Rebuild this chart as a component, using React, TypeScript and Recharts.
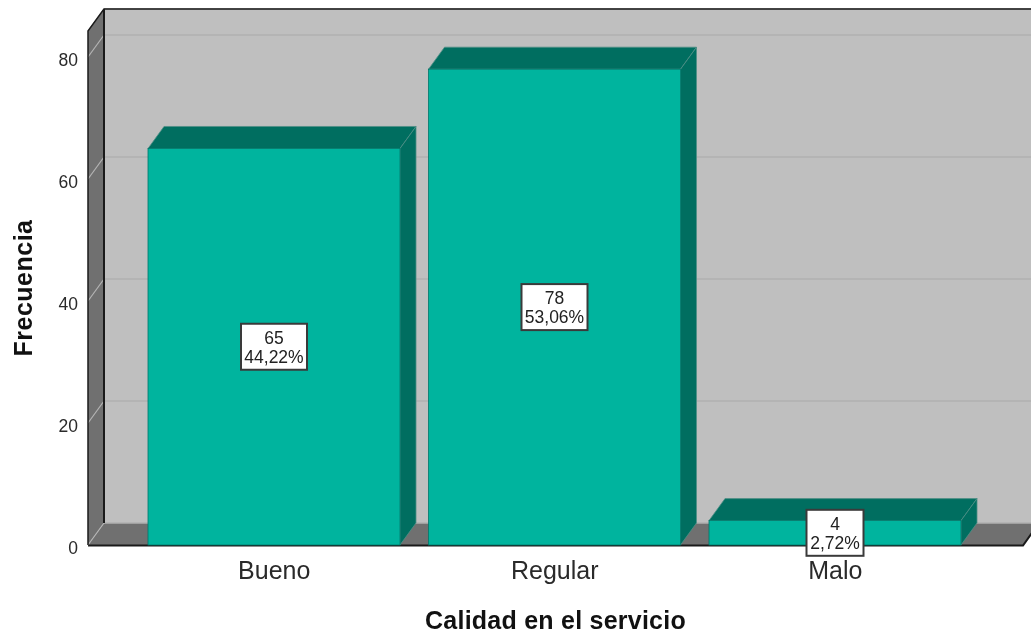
import React from 'react';
import { BarChart, Bar, XAxis, YAxis, CartesianGrid, LabelList } from 'recharts';

const categories = ['Bueno', 'Regular', 'Malo'];
const frequencies = [65, 78, 4];
const percents = ['44,22%', '53,06%', '2,72%'];
const yTicks = [0, 20, 40, 60, 80];

const data = categories.map((name, i) => ({ name, value: frequencies[i] }));

const W = 1031;
const H = 633;
const LEFT = 88;
const TOP = 31;
const BOTTOM = 545;
const RIGHT = 1023;
const DX = 16;
const DY = 22;
const FONT = '"Liberation Sans", Arial, sans-serif';

const layer: React.CSSProperties = { position: 'absolute', left: 0, top: 0 };

// the box behind the chart: back wall, left wall and floor
const Walls = () => (
    <svg width={W} height={H} style={layer}>
        <rect x={LEFT + DX} y={TOP - DY} width={W - LEFT} height={BOTTOM - TOP} fill="#bfbfbf" />
        <polygon
            points={`${LEFT},${TOP} ${LEFT + DX},${TOP - DY} ${LEFT + DX},${BOTTOM - DY} ${LEFT},${BOTTOM}`}
            fill="#707070"
        />
        <polygon
            points={`${LEFT},${BOTTOM} ${LEFT + DX},${BOTTOM - DY} ${RIGHT + DX},${BOTTOM - DY} ${RIGHT},${BOTTOM}`}
            fill="#707070"
        />
        <path
            d={`M${LEFT},${BOTTOM + 0.5} L${RIGHT},${BOTTOM + 0.5} L${RIGHT + DX},${BOTTOM - DY}`}
            fill="none"
            stroke="#1a1a1a"
            strokeWidth={2}
        />
    </svg>
);

// dark edges go above the grid lines
const Edges = () => (
    <svg width={W} height={H} style={{ ...layer, pointerEvents: 'none' }}>
        <path
            d={`M${LEFT},${BOTTOM} L${LEFT},${TOP} L${LEFT + DX},${TOP - DY} L${W},${TOP - DY}`}
            fill="none"
            stroke="#1a1a1a"
            strokeWidth={1.5}
        />
        <line x1={LEFT + DX} y1={TOP - DY} x2={LEFT + DX} y2={BOTTOM - DY} stroke="#1a1a1a" strokeWidth={2} />
    </svg>
);

const gridLine = (props: any) => {
    const { y1, key } = props;
    return (
        <g key={key}>
            <line x1={LEFT} y1={y1} x2={LEFT + DX} y2={y1 - DY} stroke="#b5b5b5" strokeWidth={1.2} />
            <line x1={LEFT + DX} y1={y1 - DY} x2={W} y2={y1 - DY} stroke="#b0b0b0" strokeWidth={1.5} />
        </g>
    );
};

const Bar3D = (props: any) => {
    const { x, y, width, height } = props;
    const edge = '#4f8f86';
    return (
        <g>
            <polygon
                points={`${x},${y} ${x + DX},${y - DY} ${x + width + DX},${y - DY} ${x + width},${y}`}
                fill="#006e60"
                stroke={edge}
                strokeWidth={0.8}
            />
            <polygon
                points={`${x + width},${y} ${x + width + DX},${y - DY} ${x + width + DX},${y + height - DY} ${x + width},${y + height}`}
                fill="#006e60"
                stroke={edge}
                strokeWidth={0.8}
            />
            <rect x={x} y={y} width={width} height={height} fill="#00b49e" stroke="#00776a" strokeWidth={0.8} />
        </g>
    );
};

const ValueBox = (props: any) => {
    const { x, y, width, height, index } = props;
    const pct = percents[index];
    const boxW = pct.length > 5 ? 66 : 57;
    const boxH = 46;
    const cx = x + width / 2;
    const cy = y + height / 2;
    return (
        <g>
            <rect
                x={cx - boxW / 2}
                y={cy - boxH / 2}
                width={boxW}
                height={boxH}
                fill="#ffffff"
                stroke="#3a3a3a"
                strokeWidth={2}
            />
            <text x={cx} y={cy - 3} textAnchor="middle" fontSize={17.5} fontFamily={FONT} fill="#222">
                {frequencies[index]}
            </text>
            <text x={cx} y={cy + 16} textAnchor="middle" fontSize={17.5} fontFamily={FONT} fill="#222">
                {pct}
            </text>
        </g>
    );
};

export default function App() {
    return (
        <div style={{ ...layer, width: W, height: H, background: '#fff', filter: 'blur(0.35px)' }}>
            <Walls />
            <div style={layer}>
                <BarChart
                    width={W}
                    height={H}
                    data={data}
                    margin={{ top: TOP, right: W - RIGHT, bottom: 0, left: 0 }}
                >
                    <CartesianGrid vertical={false} horizontal={gridLine} />
                    <XAxis
                        dataKey="name"
                        height={H - BOTTOM}
                        axisLine={false}
                        tickLine={false}
                        tickSize={0}
                        tickMargin={16}
                        padding={{ left: 46, right: 47.5 }}
                        interval={0}
                        tick={{ fill: '#2a2a2a', fontSize: 25, fontFamily: FONT }}
                        label={{
                            value: 'Calidad en el servicio',
                            position: 'insideBottom',
                            offset: 4,
                            fill: '#111',
                            fontSize: 25,
                            fontWeight: 700,
                            letterSpacing: 0.24,
                            fontFamily: FONT,
                        }}
                    />
                    <YAxis
                        width={LEFT}
                        domain={[0, 84.26]}
                        ticks={yTicks}
                        axisLine={false}
                        tickLine={false}
                        tickSize={0}
                        tickMargin={10}
                        tick={{ fill: '#2a2a2a', fontSize: 17.5, fontFamily: FONT, dy: 3 }}
                        label={{
                            value: 'Frecuencia',
                            angle: -90,
                            position: 'insideLeft',
                            offset: 23,
                            textAnchor: 'middle',
                            fill: '#111',
                            fontSize: 25,
                            fontWeight: 700,
                            letterSpacing: 0.5,
                            fontFamily: FONT,
                        }}
                    />
                    <Bar dataKey="value" barSize={252} shape={Bar3D} isAnimationActive={false}>
                        <LabelList dataKey="value" content={ValueBox} />
                    </Bar>
                </BarChart>
            </div>
            <Edges />
        </div>
    );
}
